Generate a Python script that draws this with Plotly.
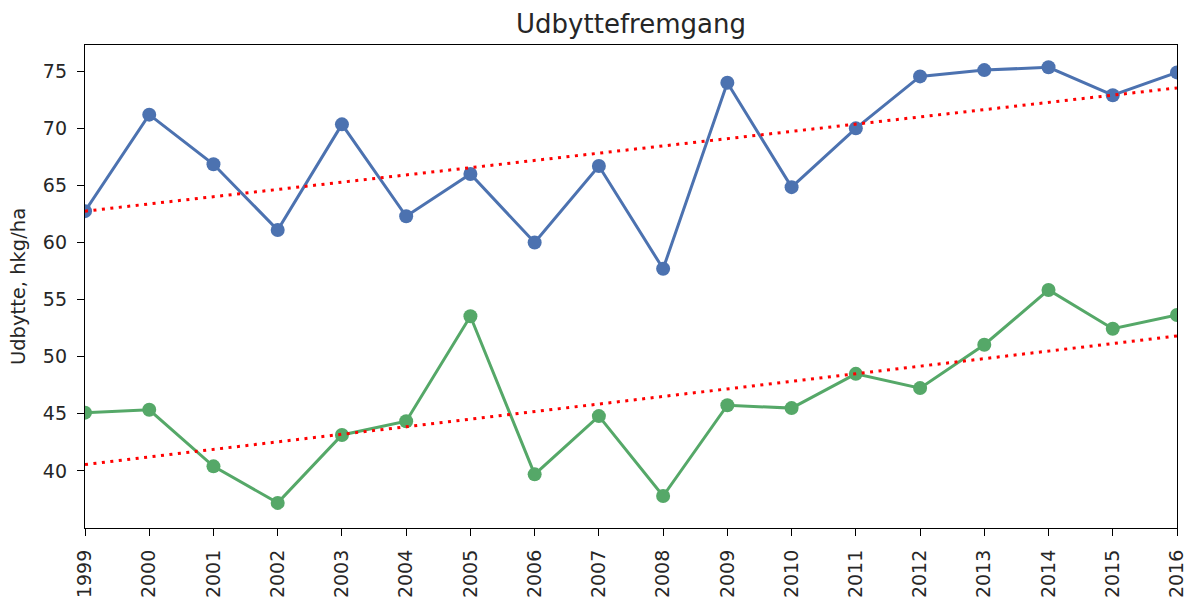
import numpy as np
import plotly.graph_objects as go

years = list(range(1999, 2017))
blue_values = [62.75, 71.2, 66.85, 61.1, 70.35, 62.3, 66.0, 60.0, 66.7, 57.7,
               74.0, 64.85, 70.0, 74.55, 75.1, 75.35, 72.9, 74.9]
green_values = [45.1, 45.35, 40.4, 37.2, 43.15, 44.35, 53.55, 39.7, 44.8, 37.8,
                45.75, 45.5, 48.5, 47.25, 51.05, 55.85, 52.45, 53.65]
y_ticks = [40, 45, 50, 55, 60, 65, 70, 75]

title = "Udbyttefremgang"
ylabel = "Udbytte, hkg/ha"

fig = go.Figure()

for vals, color in [(blue_values, "#4C72B0"), (green_values, "#55A868")]:
    fig.add_trace(go.Scatter(
        x=years, y=vals, mode="lines+markers",
        line=dict(color=color, width=3),
        marker=dict(color=color, size=14),
        showlegend=False,
    ))

# lineaer trend for hver serie
for vals in [blue_values, green_values]:
    k, m = np.polyfit(years, vals, 1)
    fig.add_trace(go.Scatter(
        x=[years[0], years[-1]],
        y=[k * years[0] + m, k * years[-1] + m],
        mode="lines",
        line=dict(color="red", width=3, dash="3px,5.5px"),
        showlegend=False,
    ))

fig.update_layout(
    width=1188, height=600,
    margin=dict(l=85, r=11, t=45, b=72),
    font=dict(family="DejaVu Sans", color="#262626", size=19),
    title=dict(text=title, x=(85 + 1177) / 2 / 1188, xanchor="center",
               y=1 - 24 / 600, yanchor="middle",
               font=dict(size=26, color="#262626")),
    plot_bgcolor="white",
    paper_bgcolor="white",
)
fig.update_xaxes(
    range=[1999, 2016], tickmode="array", tickvals=years,
    ticktext=[str(y) for y in years], tickangle=-90,
    showgrid=False, zeroline=False, automargin=False,
    showline=True, linecolor="black", linewidth=1.3, mirror=True,
    ticks="outside", ticklen=7, tickcolor="black", ticklabelstandoff=6,
)
fig.update_yaxes(
    range=[35.0, 77.3], tickmode="array", tickvals=y_ticks,
    title_text=ylabel, title_standoff=12, title_font=dict(size=19.5),
    showgrid=False, zeroline=False, automargin=False,
    showline=True, linecolor="black", linewidth=1.3, mirror=True,
    ticks="outside", ticklen=7, tickcolor="black", ticklabelstandoff=6,
)

fig.write_html("out.html", config={"displayModeBar": False},
               post_script="document.body.style.margin='0';")
